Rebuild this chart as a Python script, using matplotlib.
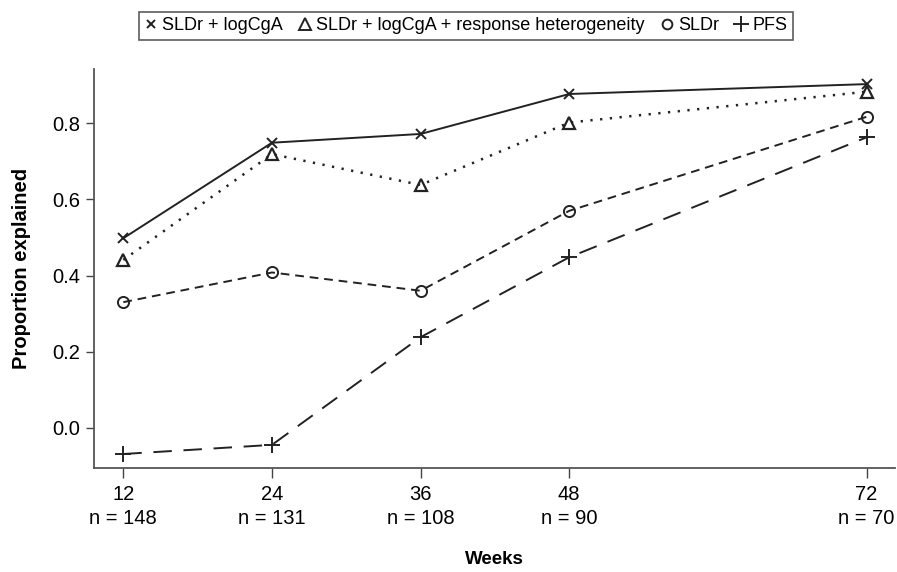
import matplotlib
matplotlib.use("Agg")
import matplotlib.pyplot as plt
from matplotlib.lines import Line2D

weeks = [12, 24, 36, 48, 72]
n_labels = ["n = 148", "n = 131", "n = 108", "n = 90", "n = 70"]
series_names = ["SLDr + logCgA", "SLDr + logCgA + response heterogeneity", "SLDr", "PFS"]
sldr_logcga = [0.498, 0.749, 0.772, 0.877, 0.903]
sldr_logcga_het = [0.441, 0.719, 0.638, 0.802, 0.883]
sldr = [0.330, 0.408, 0.360, 0.570, 0.817]
pfs = [-0.069, -0.045, 0.238, 0.448, 0.763]
yticks = [0.0, 0.2, 0.4, 0.6, 0.8]

narrow = ['Liberation Sans Narrow', 'Liberation Sans', 'DejaVu Sans']
plt.rcParams['font.family'] = ['Liberation Sans', 'DejaVu Sans']

fig = plt.figure(figsize=(8.97, 5.72), dpi=100)
W, H = 897, 572
l, r, b, t = 93.7, 895, 467.7, 69
ax = fig.add_axes([l / W, 1 - b / H, (r - l) / W, (b - t) / H])

col = '#222222'
lw = 1.4
styles = [
    dict(linestyle='-', marker='x', ms=7, mew=1.4),
    dict(linestyle=(0, (0.9, 3.0)), marker='^', ms=9, mfc='none', mew=1.6),
    dict(linestyle=(0, (4.5, 3.0)), marker='o', ms=8, mfc='none', mew=1.4),
    dict(linestyle=(0, (9.5, 6.0)), marker='+', ms=11, mew=1.4),
]
data = [sldr_logcga, sldr_logcga_het, sldr, pfs]
for i, (vals, st, name) in enumerate(zip(data, styles, series_names)):
    extra = dict(lw=1.8) if i == 1 else dict(lw=lw)
    ax.plot(weeks, vals, color=col, label=name, **extra, **st)

ax.set_xlim(9.61, 74.3)
ax.set_ylim(-0.105, 0.9427)
ax.set_xticks(weeks)
ax.set_xticklabels([f"{w}\n{n}" for w, n in zip(weeks, n_labels)],
                   family=narrow, fontsize=14.5, linespacing=1.3)
ax.set_yticks(yticks)
ax.set_yticklabels([f"{v:.1f}" for v in yticks], family=narrow, fontsize=14.5)
ax.tick_params(axis='x', length=7.5, width=1, color='#444444', pad=5)
ax.tick_params(axis='y', length=5.5, width=1, color='#444444', pad=4)
for s in ['top', 'right']:
    ax.spines[s].set_visible(False)
for s in ['left', 'bottom']:
    ax.spines[s].set_color('#555555')
    ax.spines[s].set_linewidth(1.3)

ax.set_xlabel("Weeks", fontsize=13.5, fontweight='bold', va='center')
ax.xaxis.set_label_coords(0.5, -0.2315)
ax.set_ylabel("Proportion explained", fontsize=14.5, fontweight='bold', va='center')
ax.yaxis.set_label_coords(-0.0895, 0.5)

handles = [
    Line2D([], [], color=col, linestyle='none', marker='x', ms=6, mew=1.4),
    Line2D([], [], color=col, linestyle='none', marker='^', ms=9, mfc='none', mew=1.4),
    Line2D([], [], color=col, linestyle='none', marker='o', ms=7, mfc='none', mew=1.4),
    Line2D([], [], color=col, linestyle='none', marker='+', ms=12, mew=1.4),
]
leg = fig.legend(handles, series_names, loc='center', ncol=4,
                 bbox_to_anchor=(466 / W, 1 - 25.7 / H), fontsize=13,
                 frameon=True, fancybox=False, edgecolor='#333333',
                 handlelength=0.7, handletextpad=0.25, columnspacing=0.9,
                 borderpad=0.3, borderaxespad=0)
leg.get_frame().set_linewidth(1.2)

fig.savefig("out.png", dpi=100)
